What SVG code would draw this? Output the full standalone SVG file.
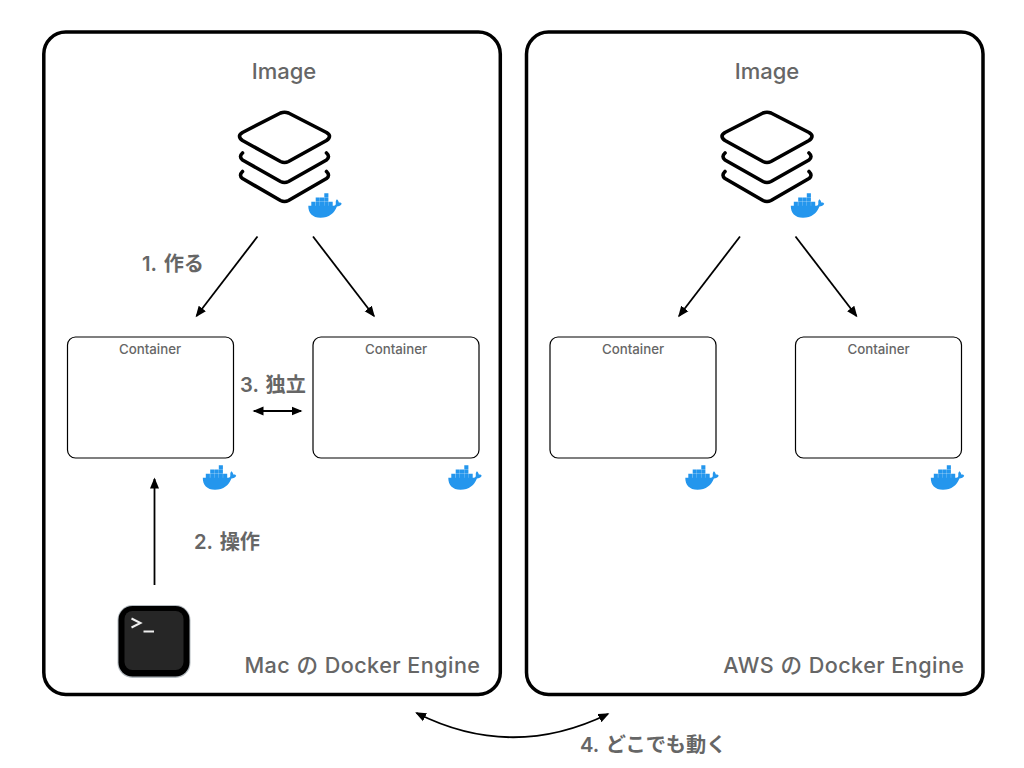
<svg xmlns="http://www.w3.org/2000/svg" width="1024" height="768" viewBox="0 0 1024 768">
<style>
text{font-family:"Inter","Liberation Sans","Noto Sans CJK JP",sans-serif;fill:#666}
.lbl{font-size:20.200px;font-weight:600;word-spacing:2px;font-family:"Inter","Liberation Sans","Noto Sans CJK JP",sans-serif}
.img{font-size:22px;font-weight:500;text-anchor:middle}
.eng{font-size:21.600px;font-weight:500;text-anchor:end;letter-spacing:.45px}
.cap{font-size:13.300px;font-weight:500;text-anchor:middle}
.panel{fill:#fff;stroke:#000;stroke-width:3.500}
.box{fill:#fff;stroke:#000;stroke-width:1.200}
.con{fill:none;stroke:#000;stroke-width:1.800}
.stk{fill:none;stroke:#000;stroke-width:3.600;stroke-linejoin:round;stroke-linecap:round}
.wb{fill:#2496ed}
</style>
<defs>
<marker id="a" markerWidth="12" markerHeight="10" refX="9.500" refY="5" orient="auto-start-reverse" markerUnits="userSpaceOnUse"><path d="M0,0.500L11,5L0,9.500z" fill="#000"/></marker>
<symbol id="whale" overflow="visible">
<path class="wb" d="M0.300,12.800H25.800C27.400,12.800 28,11.600 27.800,10C27.600,8.400 28.100,7.200 28.900,6.300C30.200,7.300 30.700,8.600 30.800,9.600C32.200,9.300 33.100,9.800 33.700,10.700C32.900,12.500 31,13.500 28.900,13.500C26.600,20 21,24.800 12.500,24.800C4.500,24.800 0.200,20 0.300,12.800z"/>
<path class="wb" d="M3.300,8.700h4.100v4.300h-4.100zM7.700,8.700h4.100v4.300h-4.100zM12,8.700h4.100v4.300h-4.100zM16.300,8.700h4.100v4.300h-4.100zM20.600,8.700h4.100v4.300h-4.100zM7.700,4.500h4.100v4h-4.100zM12,4.500h4.100v4h-4.100zM16.300,4.500h4.100v4h-4.100zM16.300,0.300h4.100v4h-4.100z"/>
</symbol>
<symbol id="stack" overflow="visible">
<path class="stk" d="M0,24.500Q0,23 3,21L41,1.500Q45,0 49,1.500L87,21Q90,23 90,24.500Q90,27 87,29L49,50Q45,52 41,50L3,29Q0,27 0,24.500z"/>
<path class="stk" d="M3,41.500Q-1,45 3,48.500L41,70Q45,72 49,70L87,48.500Q91,45 87,41.500"/>
<path class="stk" d="M3,60Q-1,64 3,67L41,89Q45,91 49,89L87,67Q91,64 87,60"/>
</symbol>
</defs>
<rect width="1024" height="768" fill="#fff"/>
<g id="panel-mac"><rect class="panel" x="43.800" y="32" width="456.500" height="662.500" rx="22"/><text class="eng" x="480.500" y="673">Mac の Docker Engine</text></g>
<g id="panel-aws"><rect class="panel" x="526.500" y="32" width="456.500" height="662.500" rx="22"/><text class="eng" x="964.500" y="673">AWS の Docker Engine</text></g>
<g id="image-mac"><text class="img" x="284" y="79">Image</text><use href="#stack" x="239.500" y="111.500"/><use href="#whale" x="308" y="193"/></g>
<g id="image-aws"><text class="img" x="767" y="79">Image</text><use href="#stack" x="722" y="111.500"/><use href="#whale" x="790.500" y="193"/></g>
<g id="container-mac-1"><rect class="box" x="67.500" y="337" width="166" height="121" rx="8"/><text class="cap" x="150" y="353.500">Container</text><use href="#whale" x="202.500" y="465"/></g>
<g id="container-mac-2"><rect class="box" x="313" y="337" width="166" height="121" rx="8"/><text class="cap" x="396" y="353.500">Container</text><use href="#whale" x="448" y="465"/></g>
<g id="container-aws-1"><rect class="box" x="550" y="337" width="166" height="121" rx="8"/><text class="cap" x="633" y="353.500">Container</text><use href="#whale" x="685" y="465"/></g>
<g id="container-aws-2"><rect class="box" x="795.500" y="337" width="166" height="121" rx="8"/><text class="cap" x="878.500" y="353.500">Container</text><use href="#whale" x="930.500" y="465"/></g>
<g id="terminal">
<rect x="117.500" y="605" width="73" height="73" rx="15" fill="#b4bbc0"/>
<rect x="118.500" y="606" width="71" height="70.500" rx="14" fill="#000"/>
<rect x="124.500" y="611" width="59" height="59" rx="8" fill="#262626"/>
<path d="M131.500,618.500L140.500,623L131.500,627.500" fill="none" stroke="#eee" stroke-width="2"/>
<path d="M143.500,631.500H154" stroke="#eee" stroke-width="2"/>
</g>
<g id="connectors">
<path class="con" marker-end="url(#a)" d="M257.500,236.500L196.500,316"/>
<path class="con" marker-end="url(#a)" d="M313,236.500L374,316"/>
<path class="con" marker-end="url(#a)" d="M740,236.500L679,316"/>
<path class="con" marker-end="url(#a)" d="M795.500,236.500L856.500,316"/>
<path class="con" marker-start="url(#a)" marker-end="url(#a)" d="M254,411H301"/>
<path class="con" marker-end="url(#a)" d="M154.500,585V479"/>
<path class="con" marker-start="url(#a)" marker-end="url(#a)" d="M416.500,713Q512,761 608,714"/>
</g>
<g id="labels">
<text class="lbl" x="142" y="270.500">1. 作る</text>
<text class="lbl" x="194" y="548.500">2. 操作</text>
<text class="lbl" x="240" y="391.500">3. 独立</text>
<text class="lbl" x="580" y="751.500">4. どこでも動く</text>
</g>
</svg>
